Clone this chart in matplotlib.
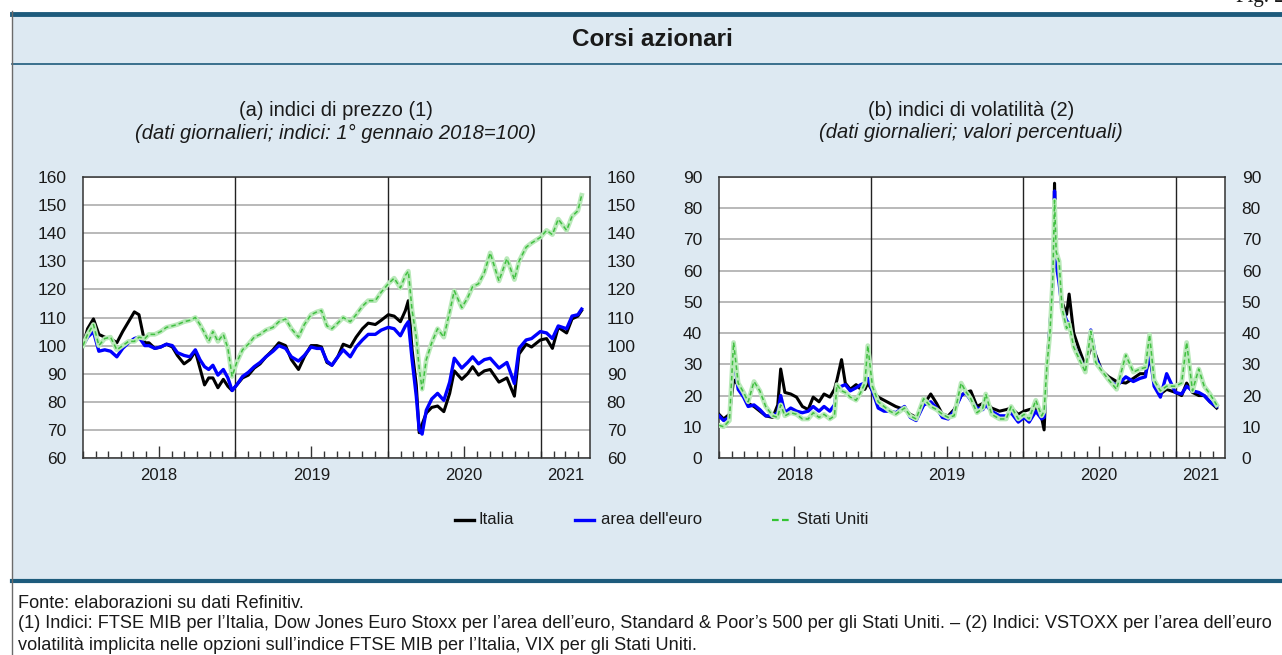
import numpy as np
import matplotlib
matplotlib.use('Agg')
import matplotlib.pyplot as plt
import matplotlib.dates as mdates
from matplotlib.patches import Rectangle
from matplotlib.lines import Line2D

plt.rcParams['font.family'] = ['Liberation Sans', 'DejaVu Sans']

# (a) indici di prezzo, 1 gen 2018 = 100
dates_a = np.array([
    '2018-01-01', '2018-01-12', '2018-01-26', '2018-02-08', '2018-02-22', '2018-03-08',
    '2018-03-23', '2018-04-06', '2018-04-20', '2018-05-04', '2018-05-15', '2018-05-29',
    '2018-06-08', '2018-06-22', '2018-07-06', '2018-07-20', '2018-08-03', '2018-08-15',
    '2018-08-31', '2018-09-14', '2018-09-27', '2018-10-08', '2018-10-19', '2018-10-29',
    '2018-11-08', '2018-11-20', '2018-12-03', '2018-12-14', '2018-12-24', '2019-01-04',
    '2019-01-18', '2019-02-01', '2019-02-15', '2019-03-01', '2019-03-15', '2019-04-01',
    '2019-04-15', '2019-05-01', '2019-05-15', '2019-06-01', '2019-06-15', '2019-07-01',
    '2019-07-15', '2019-07-26', '2019-08-08', '2019-08-20', '2019-09-03', '2019-09-16',
    '2019-10-03', '2019-10-17', '2019-11-01', '2019-11-15', '2019-12-02', '2019-12-16',
    '2020-01-02', '2020-01-16', '2020-01-31', '2020-02-12', '2020-02-19', '2020-02-28',
    '2020-03-09', '2020-03-16', '2020-03-23', '2020-04-02', '2020-04-15', '2020-04-29',
    '2020-05-14', '2020-05-28', '2020-06-08', '2020-06-26', '2020-07-10', '2020-07-22',
    '2020-08-05', '2020-08-19', '2020-09-02', '2020-09-23', '2020-10-12', '2020-10-30',
    '2020-11-10', '2020-11-27', '2020-12-10', '2020-12-31', '2021-01-15', '2021-01-29',
    '2021-02-12', '2021-03-04', '2021-03-17', '2021-03-31', '2021-04-09'], dtype='datetime64[D]')
prezzo_italia = [
    100, 106, 109.5, 104, 103, 102.5, 101, 105, 108.5, 112, 111, 101,
    101, 99, 99.5, 100.5, 99.5, 96.5, 93.5, 95, 98, 92, 86, 88.5,
    88.5, 85, 88, 85.5, 84, 86, 88.5, 89.5, 92, 93.5, 96, 98.5,
    101, 100, 95, 91.5, 96, 100, 100, 99.5, 94, 93, 96, 100.5,
    99.5, 103, 106, 108, 107.5, 109, 111, 110.5, 108.5, 112.5, 116, 98.5,
    86, 69, 72, 76, 78, 78.5, 76.5, 83, 91, 88, 90, 92.5,
    89.5, 91, 91.5, 87, 88.5, 82, 97, 100.5, 99.5, 102, 102.5, 99,
    106.5, 104.5, 109.5, 110.5, 112.5]
prezzo_euro = [
    100, 103, 105, 98, 98.5, 98, 96, 99, 101, 102.5, 103, 100,
    100, 99, 99.5, 100.5, 100, 97.5, 96.5, 96, 98.5, 95, 92.5, 91.5,
    93, 89.5, 91.5, 88.5, 84, 86, 89, 90.5, 92.5, 94, 96, 98,
    100, 99, 96, 94.5, 96.5, 99.5, 99, 99, 94.5, 93, 96, 98.5,
    96, 99.5, 102, 104, 104, 105.5, 106.5, 106, 103.5, 107, 108.5, 95,
    82, 70, 68.5, 77, 81, 83, 80.5, 87, 95.5, 92, 94, 96,
    93.5, 95, 95.5, 92, 94, 86.5, 99, 102, 102.5, 105, 104.5, 102.5,
    107, 106, 110.5, 111, 113]
prezzo_usa = [
    100, 104, 107.5, 100, 102.5, 103, 98.5, 100, 101.5, 101.5, 103, 102.5,
    104, 104, 105, 106.5, 107, 107.5, 108.5, 109, 110, 107.5, 104.5, 101.5,
    105, 101.5, 104, 99, 89, 94, 98.5, 100.5, 103, 104, 105.5, 106.5,
    108.5, 109.5, 106, 103, 107.5, 111, 112, 112.5, 107, 106, 108, 110,
    108.5, 111, 114, 116, 116, 119, 122, 124, 120.5, 125, 126.5, 112.5,
    103, 92, 84.5, 95, 101, 106, 103, 112, 119.5, 113.5, 117, 121,
    122, 126, 133, 123, 131, 123.5, 130, 135, 136.5, 138.5, 141, 139.5,
    145, 141, 146, 148, 153.5]

# (b) indici di volatilità, valori percentuali
dates_b = np.array([
    '2018-01-01', '2018-01-12', '2018-01-26', '2018-02-05', '2018-02-16', '2018-03-01',
    '2018-03-12', '2018-03-26', '2018-04-09', '2018-04-23', '2018-05-10', '2018-05-22',
    '2018-05-29', '2018-06-08', '2018-06-22', '2018-07-06', '2018-07-20', '2018-08-03',
    '2018-08-15', '2018-08-29', '2018-09-10', '2018-09-24', '2018-10-05', '2018-10-11',
    '2018-10-22', '2018-10-31', '2018-11-12', '2018-11-26', '2018-12-07', '2018-12-17',
    '2018-12-24', '2019-01-04', '2019-01-18', '2019-02-01', '2019-02-15', '2019-03-01',
    '2019-03-22', '2019-04-05', '2019-04-19', '2019-05-07', '2019-05-24', '2019-06-07',
    '2019-06-21', '2019-07-05', '2019-07-19', '2019-08-05', '2019-08-15', '2019-08-28',
    '2019-09-12', '2019-09-26', '2019-10-03', '2019-10-17', '2019-11-05', '2019-11-21',
    '2019-12-03', '2019-12-20', '2020-01-03', '2020-01-15', '2020-01-31', '2020-02-14',
    '2020-02-20', '2020-02-27', '2020-03-05', '2020-03-12', '2020-03-16', '2020-03-20',
    '2020-03-27', '2020-04-03', '2020-04-14', '2020-04-20', '2020-05-01', '2020-05-15',
    '2020-05-29', '2020-06-11', '2020-06-23', '2020-07-07', '2020-07-24', '2020-08-12',
    '2020-09-03', '2020-09-21', '2020-10-07', '2020-10-20', '2020-10-30', '2020-11-10',
    '2020-11-25', '2020-12-10', '2020-12-31', '2021-01-15', '2021-01-27', '2021-02-10',
    '2021-02-25', '2021-03-10', '2021-03-24', '2021-04-09'], dtype='datetime64[D]')
vol_italia = [
    14, 12.5, 14, 25, 23.5, 21, 17.5, 16.5, 15, 13.5, 13, 17,
    28.5, 21, 20.5, 19.5, 16.5, 15.5, 19.5, 18, 20.5, 19.5, 22, 25,
    31.5, 24, 22, 23.5, 22, 22, 24, 21.5, 19.5, 18.5, 17.5, 16.5,
    15.5, 14, 13, 17, 20.5, 17.5, 14, 13.5, 15.5, 20, 21, 21.5,
    16.5, 17.5, 18, 16, 15, 15.5, 16, 14, 15, 15.5, 16, 13,
    9, 30, 42, 57, 88, 65, 58, 50, 46, 52.5, 40, 34.5,
    29.5, 35.5, 33, 28, 26, 24.5, 24, 25.5, 27, 27, 32, 25,
    20.5, 22, 21, 20, 24, 21, 20, 20, 18, 16]
vol_euro = [
    13.5, 12, 13, 33, 22, 19.5, 16.5, 17, 15.5, 13.5, 13.5, 14.5,
    20, 14.5, 16, 15, 14.5, 15, 16.5, 15, 16.5, 15, 17, 22,
    23, 23.5, 21.5, 22.5, 23.5, 24, 25.5, 21.5, 16, 15, 15, 14.5,
    16.5, 13, 12, 17, 18, 16, 13, 12.5, 15, 20, 21, 18.5,
    16, 15.5, 17, 15, 13.5, 13.5, 14.5, 11.5, 13, 11.5, 15, 12.5,
    13, 30, 42, 56, 85.5, 62, 56, 48, 44, 43, 36, 32,
    28, 41, 32, 28, 25, 23, 26, 24.5, 25.5, 26, 34, 23,
    19.5, 27, 21, 20.5, 23, 21.5, 21, 20, 18, 16.5]
vol_usa = [
    10.5, 10, 12, 37, 24, 21, 18, 24.5, 21.5, 16.5, 13.5, 13,
    17, 13.5, 14.5, 14, 12.5, 12.5, 14.5, 13, 14, 12.5, 13.5, 23.5,
    21.5, 21, 19.5, 18.5, 21, 24, 36, 23, 18, 16.5, 15, 14,
    16, 13.5, 12.5, 19, 16.5, 15.5, 14, 13, 13.5, 24, 21.5, 19,
    14.5, 16, 20.5, 14, 12.5, 12.5, 16.5, 12.5, 14, 12.5, 18.5, 13.5,
    15, 30, 40, 58, 82.5, 66, 63, 48, 41.5, 43, 35.5, 31.5,
    27.5, 40.5, 30.5, 28, 25, 22, 33, 27.5, 28.5, 29, 39.5, 25,
    21.5, 23, 23, 24, 37, 21.5, 28.5, 23, 20.5, 17]

year_labels = ['2018', '2019', '2020', '2021']
label_dates = np.array(['2018-07-02', '2019-07-02', '2020-07-01', '2021-03-01'], dtype='datetime64[D]')
year_lines = np.array(['2019-01-01', '2020-01-01', '2021-01-01'], dtype='datetime64[D]')
series_names = ['Italia', "area dell'euro", 'Stati Uniti']

W, H = 1282, 655
fig = plt.figure(figsize=(W / 100, H / 100), dpi=100)
txt = '#1a1a1a'
teal = '#1d5b7c'
c_it, c_eu, c_us_fill, c_us = 'black', '#0000ff', '#b9e9b9', '#41bf41'

def fx(px):
    return px / W

def fy(py):
    return 1 - py / H

# background panel and rules
fig.patches.append(Rectangle((fx(12), fy(580)), 1 - fx(12), fy(14) - fy(580),
                             transform=fig.transFigure, facecolor='#dde9f2', edgecolor='none', zorder=-5))
fig.add_artist(Line2D([fx(12), 1], [fy(13.5), fy(13.5)], color=teal, lw=3.5))
fig.add_artist(Line2D([fx(12), 1], [fy(64), fy(64)], color=teal, lw=1.2))
fig.add_artist(Line2D([fx(12), 1], [fy(580.5), fy(580.5)], color=teal, lw=3.0))
fig.add_artist(Line2D([fx(12), fx(12)], [0, fy(11)], color='#6b6b6b', lw=1.0))
fig.text(fx(1236), 1.004, 'Fig. 2.', family=['Liberation Serif', 'DejaVu Serif'],
         fontsize=15, color=txt, va='center', ha='left')

fig.text(fx(652), fy(40), 'Corsi azionari', fontsize=17.5, fontweight='bold',
         color=txt, ha='center', va='center')

ax_a = fig.add_axes([fx(83), fy(458), fx(590) - fx(83), fy(177) - fy(458)])
ax_b = fig.add_axes([fx(719), fy(458), fx(1225) - fx(719), fy(177) - fy(458)])

def style(ax, ylim, step):
    ax.set_facecolor('white')
    ax.set_xlim(np.datetime64('2018-01-01'), np.datetime64('2021-04-29'))
    ax.set_ylim(*ylim)
    ax.set_yticks(np.arange(ylim[0], ylim[1] + 1, step))
    ax.yaxis.grid(True, color='#a6a6a6', lw=1.1)
    ax.set_axisbelow(True)
    for v in year_lines:
        ax.axvline(v, color='#222222', lw=1.0, zorder=1.5)
    ax.xaxis.set_major_locator(mdates.MonthLocator(bymonth=7))
    ax.xaxis.set_minor_locator(mdates.MonthLocator())
    ax.xaxis.set_major_formatter(plt.NullFormatter())
    ax.tick_params(axis='x', which='major', direction='in', length=9, width=1, color='#333333')
    ax.tick_params(axis='x', which='minor', direction='in', length=5, width=1, color='#333333')
    ax.tick_params(axis='y', length=0, labelsize=12.5, labelcolor=txt, labelright=True, pad=12)
    for s in ax.spines.values():
        s.set_color('#333333')
        s.set_linewidth(1.1)
    for d, lab in zip(label_dates, year_labels):
        ax.text(d, -0.064, lab, transform=ax.get_xaxis_transform(), ha='center', va='center',
                fontsize=12, color=txt)

def draw(ax, d, it, eu, us):
    ax.plot(d, it, color=c_it, lw=2.2, zorder=3)
    ax.plot(d, eu, color=c_eu, lw=2.4, zorder=4)
    ax.plot(d, us, color=c_us_fill, lw=3.4, zorder=5)
    ax.plot(d, us, color=c_us, lw=1.1, ls=(0, (3, 2)), zorder=6)

style(ax_a, (60, 160), 10)
style(ax_b, (0, 90), 10)
draw(ax_a, dates_a, prezzo_italia, prezzo_euro, prezzo_usa)
draw(ax_b, dates_b, vol_italia, vol_euro, vol_usa)

# panel titles
for cx, l1, l2 in [(336, '(a) indici di prezzo (1)', '(dati giornalieri; indici: 1° gennaio 2018=100)'),
                   (971, '(b) indici di volatilità (2)', '(dati giornalieri; valori percentuali)')]:
    fig.text(fx(cx), fy(111), l1, fontsize=14.5, color=txt, ha='center', va='center')
    fig.text(fx(cx), fy(133), l2, fontsize=14.5, style='italic', color=txt, ha='center', va='center')

# legend, one entry at a time as in the reference
leg_pos = [(455, 479), (575, 601), (772, 797)]
leg_styles = [dict(color=c_it, lw=2.4), dict(color=c_eu, lw=2.4),
              dict(color='#33c433', lw=1.6, ls=(0, (3, 1.5)))]
for (hx, tx), st, name in zip(leg_pos, leg_styles, series_names):
    fig.add_artist(Line2D([fx(hx), fx(hx + 19)], [fy(520), fy(520)], **st))
    fig.text(fx(tx), fy(520), name, fontsize=12, color=txt, ha='left', va='center')

notes = ['Fonte: elaborazioni su dati Refinitiv.',
         '(1) Indici: FTSE MIB per l’Italia, Dow Jones Euro Stoxx per l’area dell’euro, Standard & Poor’s 500 '
         'per gli Stati Uniti. – (2) Indici: VSTOXX per l’area dell’euro',
         'volatilità implicita nelle opzioni sull’indice FTSE MIB per l’Italia, VIX per gli Stati Uniti.']
for yy, n in zip([603, 624, 645], notes):
    fig.text(fx(18), fy(yy), n, fontsize=13.1, color=txt, ha='left', va='center')

fig.savefig('out.png', dpi=100, facecolor='white')
